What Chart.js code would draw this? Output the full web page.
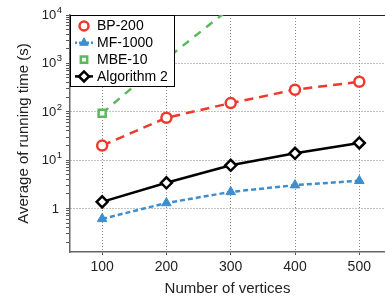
<!DOCTYPE html>
<html>
<head>
<meta charset="utf-8">
<script src="https://cdn.jsdelivr.net/npm/chart.js@4"></script>
<style>
  html, body { margin: 0; padding: 0; background: #fff; overflow: hidden; }
  canvas { display: block; }
</style>
</head>
<body>
<canvas id="myChart" width="385" height="302"></canvas>
<script>
// Data
const vertices = [100, 200, 300, 400, 500];
const bp200 = [20, 75, 151, 285, 417];
const mf1000 = [0.61, 1.3, 2.2, 3.04, 3.74];
const mbe10 = [93, 1250, 14000, null, null];
const algorithm2 = [1.37, 3.4, 7.8, 13.8, 22.6];

const seriesNames = ["BP-200", "MF-1000", "MBE-10", "Algorithm 2"];
const xTicks = [100, 200, 300, 400, 500];
const yMajorValues = [1, 10, 100, 1000, 10000];
const yMajorBase = ["1", "10", "10", "10", "10"];
const yMajorExp = ["", "1", "2", "3", "4"];

const FONT = "'Liberation Sans', Arial, Helvetica, sans-serif";
const RED = "#ee3a2c";
const BLUE = "#3d8ecf";
const GREEN = "#5cb85c";

function toPoints(ys) {
    return vertices.map((x, i) => ({ x: x, y: ys[i] }));
}

// minor ticks for the log axis (1..9 in each decade)
function logTicks(min, max) {
    const out = [];
    for (let e = -1; e <= 4; e++) {
        for (let m = 1; m <= 9; m++) {
            const v = m * Math.pow(10, e);
            if (v >= min - 1e-9 && v <= max + 1e-9) out.push({ value: v });
        }
    }
    return out;
}

function isMajor(v) {
    return yMajorValues.some(m => Math.abs(m - v) / m < 1e-6);
}

// y labels with real superscripts
const powerLabels = {
    id: "powerLabels",
    afterDraw(chart) {
        const { ctx } = chart;
        const y = chart.scales.y;
        ctx.save();
        ctx.fillStyle = "#222";
        ctx.textBaseline = "middle";
        yMajorValues.forEach((v, i) => {
            const py = y.getPixelForValue(v);
            const right = y.right - 8;
            if (yMajorExp[i] === "") {
                ctx.font = "13px " + FONT;
                ctx.textAlign = "right";
                ctx.fillText(yMajorBase[i], right - 3, py + 0.5);
            } else {
                ctx.font = "9.5px " + FONT;
                ctx.textAlign = "right";
                ctx.fillText(yMajorExp[i], right, py - 4.5);
                const ew = ctx.measureText(yMajorExp[i]).width;
                ctx.font = "13px " + FONT;
                ctx.fillText(yMajorBase[i], right - ew - 0.5, py + 0.5);
            }
        });
        ctx.restore();
    }
};

// legend drawn on top of the lines, inside the plot
const boxLegend = {
    id: "boxLegend",
    afterDatasetsDraw(chart) {
        const { ctx, chartArea } = chart;
        const h = Chart.helpers;
        const left = chartArea.left, top = chartArea.top;
        const w = 105, hgt = 72, rowH = 16.8;
        ctx.save();
        ctx.fillStyle = "#fff";
        ctx.fillRect(left, top, w, hgt);
        ctx.strokeStyle = "#000";
        ctx.lineWidth = 1;
        ctx.strokeRect(left + 0.5, top + 0.5, w - 1, hgt - 1);
        chart.data.datasets.forEach((ds, i) => {
            const cy = top + 11 + i * rowH;
            const cx = left + 14;
            if (ds.legendLine) {
                ctx.beginPath();
                ctx.setLineDash(ds.legendDash || []);
                ctx.strokeStyle = ds.borderColor;
                ctx.lineWidth = 2.5;
                ctx.moveTo(cx - 9, cy);
                ctx.lineTo(cx + 9, cy);
                ctx.stroke();
                ctx.setLineDash([]);
            }
            ctx.fillStyle = ds.pointBackgroundColor;
            ctx.strokeStyle = ds.borderColor;
            ctx.lineWidth = ds.pointBorderWidth;
            h.drawPoint(ctx, {
                pointStyle: ds.pointStyle,
                radius: ds.pointRadius - 0.5,
                borderWidth: ds.pointBorderWidth,
                rotation: 0
            }, cx, cy);
            ctx.fillStyle = "#000";
            ctx.font = "14px " + FONT;
            ctx.textBaseline = "middle";
            ctx.textAlign = "left";
            ctx.fillText(ds.label, left + 27, cy + 0.5);
        });
        ctx.restore();
    }
};

const ctx = document.getElementById("myChart");
new Chart(ctx, {
    type: "line",
    data: {
        datasets: [
            {
                label: seriesNames[0],
                data: toPoints(bp200),
                borderColor: RED,
                borderWidth: 2.5,
                borderDash: [9, 6],
                pointStyle: "circle",
                pointRadius: 5,
                pointBorderWidth: 2.5,
                pointBackgroundColor: "#fff",
                pointBorderColor: RED,
                legendLine: false
            },
            {
                label: seriesNames[1],
                data: toPoints(mf1000),
                borderColor: BLUE,
                borderWidth: 2.5,
                borderDash: [5, 3],
                pointStyle: "triangle",
                pointRadius: 5.5,
                pointBorderWidth: 1,
                pointBackgroundColor: BLUE,
                pointBorderColor: BLUE,
                legendLine: true,
                legendDash: [2, 2]
            },
            {
                label: seriesNames[2],
                data: toPoints(mbe10),
                borderColor: GREEN,
                borderWidth: 2.5,
                borderDash: [8, 7],
                pointStyle: "rect",
                pointRadius: 5,
                pointBorderWidth: 2.5,
                pointBackgroundColor: "#fff",
                pointBorderColor: GREEN,
                clip: 0,
                legendLine: false
            },
            {
                label: seriesNames[3],
                data: toPoints(algorithm2),
                borderColor: "#000",
                borderWidth: 2.5,
                pointStyle: "rectRot",
                pointRadius: 5.5,
                pointBorderWidth: 2.5,
                pointBackgroundColor: "#fff",
                pointBorderColor: "#000",
                legendLine: true,
                legendDash: []
            }
        ]
    },
    options: {
        responsive: false,
        animation: false,
        layout: { autoPadding: false, padding: { top: 15, right: 0, left: 0, bottom: 0 } },
        plugins: {
            legend: { display: false },
            tooltip: { enabled: false }
        },
        scales: {
            x: {
                type: "linear",
                min: 50,
                max: 540,
                afterBuildTicks: (scale) => { scale.ticks = xTicks.map(v => ({ value: v })); },
                afterFit: (scale) => {
                    scale.height = 50;
                    scale.paddingLeft = 0;
                    scale.paddingRight = 0;
                },
                ticks: {
                    autoSkip: false,
                    maxRotation: 0,
                    padding: 4,
                    color: "#222",
                    font: { family: FONT, size: 14 }
                },
                grid: {
                    color: "#888",
                    lineWidth: 1,
                    drawTicks: true,
                    tickLength: 3,
                    tickColor: "#555"
                },
                border: { color: "#666", width: 1.5, dash: [1, 2] },
                title: {
                    display: true,
                    text: "Number of vertices",
                    color: "#222",
                    font: { family: FONT, size: 15 },
                    padding: { top: 2, bottom: 4 }
                }
            },
            xTop: {
                type: "linear",
                position: "top",
                min: 50,
                max: 540,
                afterFit: (scale) => {
                    scale.height = 0;
                    scale.paddingLeft = 0;
                    scale.paddingRight = 0;
                },
                ticks: { display: false },
                grid: { display: false },
                border: { color: "#222", width: 1 }
            },
            y: {
                type: "logarithmic",
                min: 0.126,
                max: 10000,
                afterBuildTicks: (scale) => { scale.ticks = logTicks(scale.min, scale.max); },
                afterFit: (scale) => {
                    scale.width = 70;
                    scale.paddingTop = 0;
                    scale.paddingBottom = 0;
                },
                ticks: {
                    autoSkip: false,
                    padding: 2,
                    color: "#222",
                    font: { family: FONT, size: 13 },
                    callback: () => ""
                },
                grid: {
                    color: (c) => (c.tick && isMajor(c.tick.value)) ? "#888" : "rgba(0,0,0,0)",
                    lineWidth: 1,
                    drawTicks: true,
                    tickLength: 4,
                    tickColor: "#555",
                    tickWidth: 1
                },
                border: { color: "#666", width: 1.5, dash: [1, 2] },
                title: {
                    display: true,
                    text: "Average of running time (s)",
                    color: "#222",
                    font: { family: FONT, size: 15 },
                    padding: { top: 15, bottom: 0 }
                }
            }
        }
    },
    plugins: [boxLegend, powerLabels]
});
</script>
</body>
</html>
